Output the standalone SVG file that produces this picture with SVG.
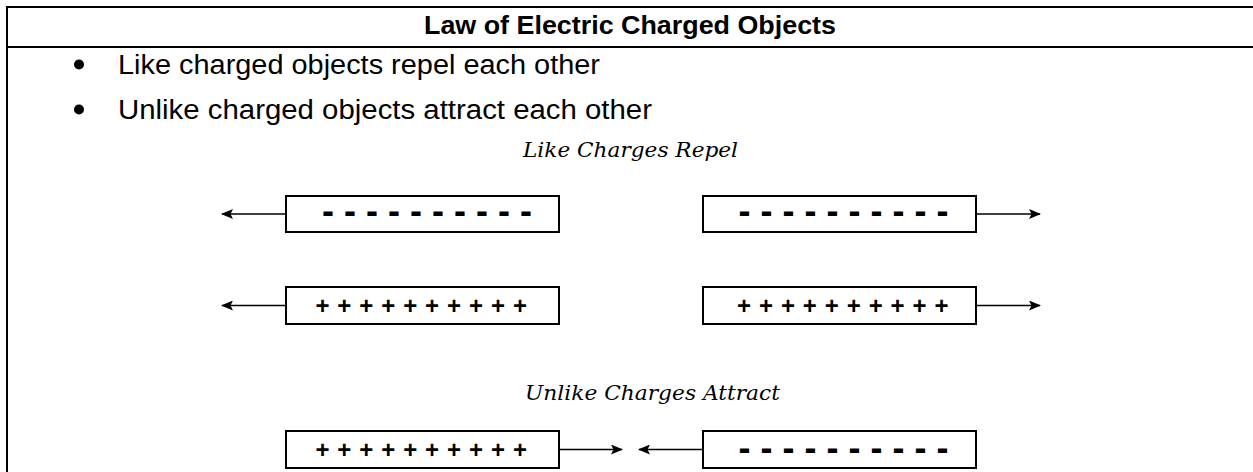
<svg xmlns="http://www.w3.org/2000/svg" width="1253" height="472" viewBox="0 0 1253 472">
  <style>
    .title { font-family: "Liberation Sans", Arial, sans-serif; font-weight: bold; font-size: 26px; fill: #000; }
    .bullet { font-family: "Liberation Sans", Arial, sans-serif; font-size: 27px; fill: #000; }
    .math { font-family: "DejaVu Serif", "Liberation Serif", serif; font-style: italic; font-size: 21px; fill: #000; }
    .box { fill: #fff; stroke: #000; stroke-width: 2; }
    .minus { font-family: "Liberation Sans", Arial, sans-serif; font-weight: bold; font-size: 36px; fill: #000; }
    .plus { font-family: "Liberation Sans", Arial, sans-serif; font-weight: bold; font-size: 24px; fill: #000; }
    .conn { stroke: #000; stroke-width: 1.6; fill: none; }
    .frame { stroke: #000; stroke-width: 2; fill: none; }
  </style>
  <defs>
    <marker id="arrow" viewBox="0 0 12 10" refX="11" refY="5" markerWidth="12" markerHeight="10" markerUnits="userSpaceOnUse" orient="auto">
      <path d="M0,0 L12,5 L0,10 L2.5,5 Z" fill="#000"/>
    </marker>
  </defs>
  <rect width="1253" height="472" fill="#fff"/>

  <g id="table">
    <line class="frame" x1="6" y1="7" x2="1253" y2="7"/>
    <line class="frame" x1="6" y1="47" x2="1253" y2="47"/>
    <line class="frame" x1="7" y1="6" x2="7" y2="472"/>
  </g>

  <g id="title">
    <text class="title" x="424" y="34" textLength="412" lengthAdjust="spacingAndGlyphs">Law of Electric Charged Objects</text>
  </g>

  <g id="bullets">
    <circle cx="79" cy="64.5" r="5"/>
    <text class="bullet" x="118" y="74" textLength="482" lengthAdjust="spacingAndGlyphs">Like charged objects repel each other</text>
    <circle cx="79" cy="109.5" r="5"/>
    <text class="bullet" x="118" y="119" textLength="534" lengthAdjust="spacingAndGlyphs">Unlike charged objects attract each other</text>
  </g>

  <g id="label-repel">
    <text class="math" x="523" y="157" textLength="215" lengthAdjust="spacingAndGlyphs">Like Charges Repel</text>
  </g>
  <g id="label-attract">
    <text class="math" x="525" y="400" textLength="255" lengthAdjust="spacingAndGlyphs">Unlike Charges Attract</text>
  </g>

  <g id="neg-left-1">
    <rect class="box" x="286" y="196" width="273" height="36"/>
    <text class="minus" x="322" y="223">- - - - - - - - - -</text>
  </g>
  <g id="neg-right-1">
    <rect class="box" x="703" y="196" width="273" height="36"/>
    <text class="minus" x="738.6" y="223">- - - - - - - - - -</text>
  </g>
  <g id="pos-left-2">
    <rect class="box" x="286" y="287" width="273" height="37"/>
    <text class="plus" x="315.4" y="314" letter-spacing="0.63">+ + + + + + + + + +</text>
  </g>
  <g id="pos-right-2">
    <rect class="box" x="703" y="287" width="273" height="37"/>
    <text class="plus" x="737" y="314" letter-spacing="0.63">+ + + + + + + + + +</text>
  </g>
  <g id="pos-left-3">
    <rect class="box" x="286" y="431" width="273" height="37"/>
    <text class="plus" x="315.4" y="458" letter-spacing="0.63">+ + + + + + + + + +</text>
  </g>
  <g id="neg-right-3">
    <rect class="box" x="703" y="431" width="273" height="37"/>
    <text class="minus" x="738.6" y="459.5">- - - - - - - - - -</text>
  </g>

  <g id="connectors">
    <line class="conn" x1="286" y1="214" x2="222" y2="214" marker-end="url(#arrow)"/>
    <line class="conn" x1="976" y1="214" x2="1040" y2="214" marker-end="url(#arrow)"/>
    <line class="conn" x1="286" y1="305.5" x2="222" y2="305.5" marker-end="url(#arrow)"/>
    <line class="conn" x1="976" y1="305.5" x2="1040" y2="305.5" marker-end="url(#arrow)"/>
    <line class="conn" x1="559" y1="449.5" x2="622" y2="449.5" marker-end="url(#arrow)"/>
    <line class="conn" x1="703" y1="449.5" x2="639" y2="449.5" marker-end="url(#arrow)"/>
  </g>
</svg>
